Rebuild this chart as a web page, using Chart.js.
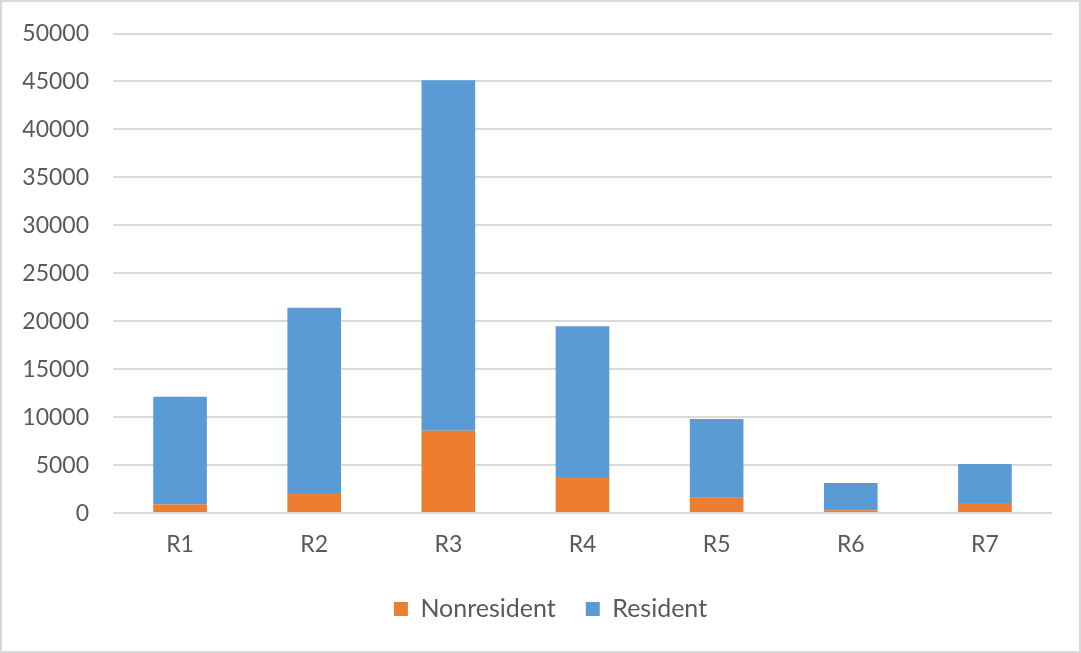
<!DOCTYPE html>
<html>
<head>
<meta charset="utf-8">
<script src="https://cdn.jsdelivr.net/npm/chart.js@4.4.1/dist/chart.umd.min.js"></script>
<style>
  html, body { margin: 0; padding: 0; background: #ffffff; }
  #frame {
    position: relative;
    width: 1081px;
    height: 653px;
    box-sizing: border-box;
    border: 2px solid #d9d9d9;
    background: #ffffff;
  }
  #chart { display: block; }
</style>
</head>
<body>
<div id="frame">
  <canvas id="chart" width="1077" height="649"></canvas>
</div>
<script>
// Regions and the two stacked series
const regions = ['R1', 'R2', 'R3', 'R4', 'R5', 'R6', 'R7'];
const nonresident = [900, 2090, 8590, 3760, 1600, 310, 1040];
const resident = [11240, 19310, 36540, 15720, 8210, 2820, 4070];
const seriesNames = ['Nonresident', 'Resident'];

const yMin = 0;
const yMax = 50000;
const yStep = 5000;

const textColor = '#595959';
const gridColor = '#d9d9d9';
const fontFamily = 'Lato, "Liberation Sans", sans-serif';

// Centre the legend under the plot area rather than the whole canvas
const legendUnderPlot = {
  id: 'legendUnderPlot',
  afterLayout(chart) {
    const lg = chart.legend;
    if (!lg) return;
    const plotMid = (chart.chartArea.left + chart.chartArea.right) / 2;
    const legendMid = (lg.left + lg.right) / 2;
    const shift = plotMid - legendMid - 32;
    lg.left += shift;
    lg.right += shift;
  }
};

const canvas = document.getElementById('chart');
new Chart(canvas, {
  type: 'bar',
  data: {
    labels: regions,
    datasets: [
      {
        label: seriesNames[0],
        data: nonresident,
        backgroundColor: '#ed7d31',
        borderWidth: 0
      },
      {
        label: seriesNames[1],
        data: resident,
        backgroundColor: '#5b9bd5',
        borderWidth: 0
      }
    ]
  },
  plugins: [legendUnderPlot],
  options: {
    responsive: false,
    animation: false,
    events: [],
    layout: {
      padding: { top: 31.5, right: 27, bottom: 19.5, left: 0 }
    },
    datasets: {
      bar: { barPercentage: 0.4, categoryPercentage: 1.0 }
    },
    scales: {
      x: {
        stacked: true,
        grid: { display: false, drawTicks: false },
        border: { display: false },
        ticks: {
          color: textColor,
          padding: 18,
          font: { family: fontFamily, size: 23 }
        },
        afterFit(scale) { scale.height = 53.4; }
      },
      y: {
        stacked: true,
        min: yMin,
        max: yMax,
        grid: { color: gridColor, lineWidth: 2, drawTicks: false },
        border: { display: false },
        ticks: {
          stepSize: yStep,
          color: textColor,
          padding: 24,
          font: { family: fontFamily, size: 23 },
          callback: (v) => String(v)
        },
        afterFit(scale) {
          scale.width = 111;
          scale.paddingTop = 0;
          scale.paddingBottom = 0;
        }
      }
    },
    plugins: {
      tooltip: { enabled: false },
      title: { display: false },
      legend: {
        display: true,
        position: 'bottom',
        labels: {
          color: textColor,
          boxWidth: 14,
          boxHeight: 14,
          padding: 30,
          font: { family: fontFamily, size: 25 }
        }
      }
    }
  }
});
</script>
</body>
</html>
